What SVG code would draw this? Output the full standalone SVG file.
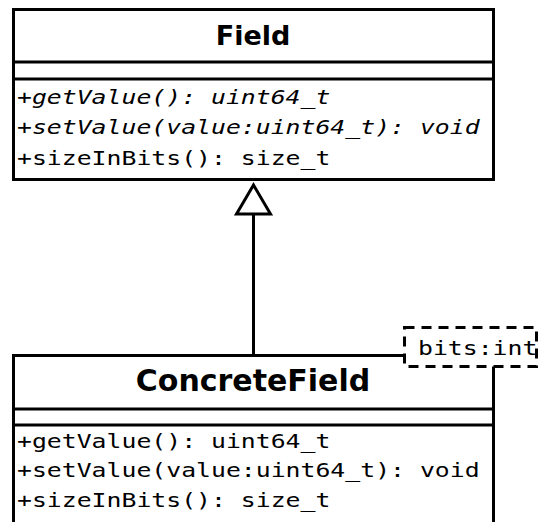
<svg xmlns="http://www.w3.org/2000/svg" width="540" height="522" viewBox="0 0 540 522">
<style>
.box{fill:#fff;stroke:#000;stroke-width:3}
.div{stroke:#000;stroke-width:3}
.title{font-family:"DejaVu Sans",sans-serif;font-weight:bold;text-anchor:middle;fill:#000}
.m{font-family:"DejaVu Sans Mono",monospace;font-size:20px;fill:#000}
.i{font-style:italic}
.conn{stroke:#000;stroke-width:3;fill:none}
.tpl{fill:#fff;stroke:#000;stroke-width:3;stroke-dasharray:10 7}
</style>
<defs>
<marker id="inh" markerUnits="userSpaceOnUse" viewBox="-40 -22 46 44" markerWidth="46" markerHeight="44" refX="0" refY="0" orient="auto">
<path d="M0,0 L-29,-17 L-29,17 Z" fill="#fff" stroke="#000" stroke-width="3"/>
</marker>
</defs>
<g id="Field">
<rect class="box" x="13.5" y="9.5" width="480" height="170"/>
<line class="div" x1="13.5" y1="62" x2="493.5" y2="62"/>
<line class="div" x1="13.5" y1="79" x2="493.5" y2="79"/>
<text class="title" x="253" y="45" font-size="27">Field</text>
<text class="m i" transform="translate(17 104) scale(1.24 1)">+getValue(): uint64_t</text>
<text class="m i" transform="translate(17 134) scale(1.24 1)">+setValue(value:uint64_t): void</text>
<text class="m" transform="translate(17 165) scale(1.24 1)">+sizeInBits(): size_t</text>
</g>
<g id="connectors">
<line class="conn" x1="253.5" y1="355" x2="253.5" y2="185" marker-end="url(#inh)"/>
</g>
<g id="ConcreteField">
<rect class="box" x="13.5" y="355.5" width="480" height="200"/>
<line class="div" x1="13.5" y1="409" x2="493.5" y2="409"/>
<line class="div" x1="13.5" y1="425" x2="493.5" y2="425"/>
<text class="title" x="253" y="391" font-size="30">ConcreteField</text>
<text class="m" transform="translate(17 448) scale(1.24 1)">+getValue(): uint64_t</text>
<text class="m" transform="translate(17 477) scale(1.24 1)">+setValue(value:uint64_t): void</text>
<text class="m" transform="translate(17 507) scale(1.24 1)">+sizeInBits(): size_t</text>
</g>
<g id="template">
<rect class="tpl" x="404.5" y="327.5" width="132" height="39"/>
<text class="m" transform="translate(418 355) scale(1.24 1)">bits:int</text>
</g>
</svg>
